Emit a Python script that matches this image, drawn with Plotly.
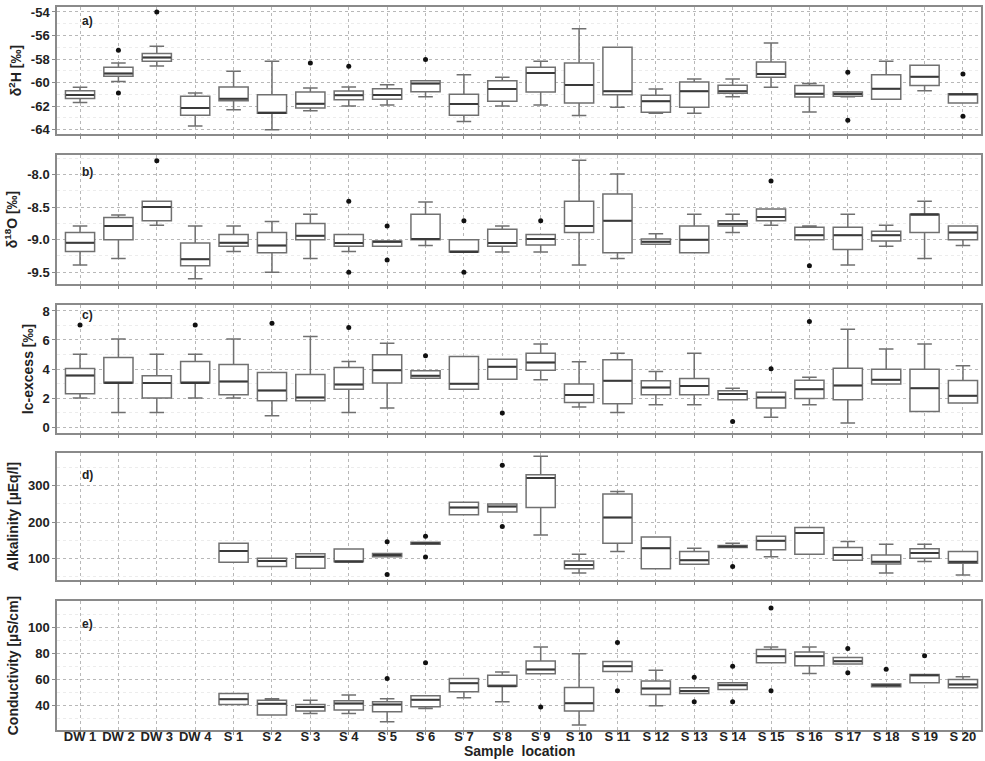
import plotly.graph_objects as go
from plotly.subplots import make_subplots

cats = ["DW 1", "DW 2", "DW 3", "DW 4"] + [f"S {i}" for i in range(1, 21)]
s_cats = cats[4:]

# Panel a) delta 2H
a_lf = [-61.7, -59.9, -58.6, -63.7, -62.3, -64.0, -62.4, -62.0, -61.9, -61.2, -63.3, -62.0, -61.9, -62.8, -62.1, -62.6, -62.6, -61.2, -60.4, -62.5, -61.2, -61.4, -60.7, -61.7]
a_q1 = [-61.35, -59.47, -58.19, -62.78, -61.54, -62.61, -62.16, -61.45, -61.42, -60.77, -62.78, -61.59, -60.80, -61.73, -61.03, -62.53, -62.10, -60.91, -59.55, -61.22, -61.17, -61.42, -60.26, -61.73]
a_med = [-61.05, -59.24, -57.88, -62.16, -61.37, -62.58, -61.79, -61.08, -61.05, -60.09, -61.82, -60.54, -59.18, -60.2, -60.74, -61.59, -60.74, -60.74, -59.27, -60.94, -60.97, -60.52, -59.50, -61.0]
a_q3 = [-60.7, -58.70, -57.54, -61.17, -60.37, -61.03, -60.80, -60.71, -60.52, -59.84, -61.0, -59.84, -58.70, -58.33, -57.0, -61.08, -59.95, -60.23, -58.25, -60.26, -60.80, -59.33, -58.53, -60.94]
a_uf = [-60.4, -58.33, -56.92, -60.88, -59.04, -58.19, -60.46, -60.37, -60.18, -59.84, -59.33, -59.55, -58.19, -55.42, -57.0, -60.54, -59.69, -59.69, -56.63, -60.09, -60.80, -58.19, -58.53, -60.94]
a_out_x = ["DW 2", "DW 2", "DW 3", "S 3", "S 4", "S 6", "S 17", "S 17", "S 20", "S 20"]
a_out_y = [-57.26, -60.88, -54.0, -58.33, -58.62, -58.05, -59.13, -63.21, -59.27, -62.87]

# Panel b) delta 18O
b_lf = [-9.39, -9.29, -8.78, -9.60, -9.18, -9.50, -9.29, -9.18, -9.10, -9.09, -9.19, -9.19, -9.19, -9.39, -9.29, -9.07, -9.20, -8.89, -8.78, -9.0, -9.39, -9.10, -9.29, -9.09]
b_q1 = [-9.18, -9.0, -8.71, -9.40, -9.10, -9.20, -9.0, -9.10, -9.10, -9.0, -9.19, -9.10, -9.08, -8.89, -9.20, -9.07, -9.20, -8.79, -8.71, -9.0, -9.15, -9.02, -8.89, -9.0]
b_med = [-9.045, -8.79, -8.50, -9.30, -9.045, -9.09, -8.94, -9.05, -9.03, -8.99, -9.19, -9.05, -8.99, -8.79, -8.71, -9.03, -9.0, -8.76, -8.65, -8.93, -8.93, -8.93, -8.61, -8.89]
b_q3 = [-8.89, -8.66, -8.41, -9.05, -8.92, -8.89, -8.75, -8.92, -9.02, -8.61, -9.0, -8.84, -8.92, -8.41, -8.30, -8.99, -8.79, -8.71, -8.53, -8.81, -8.81, -8.87, -8.61, -8.79]
b_uf = [-8.79, -8.62, -8.41, -8.79, -8.79, -8.72, -8.61, -8.92, -9.02, -8.42, -9.0, -8.79, -8.92, -7.78, -7.99, -8.91, -8.61, -8.61, -8.53, -8.79, -8.61, -8.78, -8.41, -8.79]
b_out_x = ["DW 3", "S 4", "S 4", "S 5", "S 5", "S 7", "S 7", "S 9", "S 15", "S 16"]
b_out_y = [-7.79, -8.41, -9.5, -8.79, -9.31, -8.71, -9.5, -8.71, -8.10, -9.40]

# Panel c) lc-excess
c_lf = [2.0, 1.01, 1.01, 2.0, 2.0, 0.78, 1.81, 1.01, 1.31, 3.37, 2.61, 3.30, 3.26, 1.38, 1.01, 1.54, 1.54, 1.88, 0.67, 1.54, 0.28, 2.96, 1.08, 1.65]
c_q1 = [2.29, 3.03, 2.0, 3.03, 2.22, 1.81, 1.81, 2.61, 3.03, 3.37, 2.61, 3.30, 3.92, 1.70, 1.61, 2.22, 2.22, 1.88, 1.31, 1.97, 1.88, 2.96, 1.08, 1.65]
c_med = [3.56, 3.03, 3.03, 3.03, 3.14, 2.52, 2.04, 2.94, 3.92, 3.53, 2.98, 4.15, 4.45, 2.20, 3.19, 2.73, 2.82, 2.27, 2.04, 2.61, 2.87, 3.26, 2.68, 2.16]
c_q3 = [4.04, 4.79, 3.53, 4.52, 4.31, 3.76, 3.62, 4.11, 4.98, 3.88, 4.86, 4.68, 5.09, 2.96, 4.63, 3.19, 3.35, 2.50, 2.39, 3.23, 4.06, 3.99, 3.99, 3.21]
c_uf = [5.02, 6.06, 5.02, 5.02, 6.06, 3.76, 6.24, 4.52, 5.78, 3.88, 4.86, 4.68, 5.73, 4.50, 5.09, 3.83, 5.09, 2.68, 2.39, 3.44, 6.74, 5.37, 5.73, 4.22]
c_out_x = ["DW 1", "DW 4", "S 2", "S 4", "S 6", "S 8", "S 14", "S 15", "S 16"]
c_out_y = [7.04, 7.04, 7.16, 6.86, 4.91, 0.96, 0.39, 4.01, 7.27]

# Panel d) Alkalinity (S 1 - S 20 only)
d_lf = [90, 78, 73, 91, 105, 139, 220, 228, 165, 60, 119, 72, 84, 130, 105, 112, 95, 60, 92, 55]
d_q1 = [90, 78, 73, 91, 105, 139, 220, 228, 240, 72, 142, 72, 84, 130, 124, 112, 95, 85, 101, 87]
d_med = [121, 93, 105, 91, 110, 142, 240, 243, 321, 82, 213, 128, 95, 133, 149, 170, 110, 91, 115, 91]
d_q3 = [142, 101, 113, 126, 114, 145, 255, 250, 330, 93, 277, 159, 119, 136, 161, 185, 130, 110, 127, 119]
d_uf = [142, 101, 113, 126, 114, 145, 255, 250, 381, 112, 284, 159, 128, 142, 161, 185, 147, 139, 139, 119]
d_out_x = ["S 5", "S 5", "S 6", "S 6", "S 8", "S 8", "S 14"]
d_out_y = [146, 56, 161, 104, 356, 188, 78]

# Panel e) Conductivity (S 1 - S 20 only)
e_lf = [40.5, 32.3, 33.6, 33.6, 27.2, 37.4, 45.6, 42.6, 64.1, 24.6, 65.9, 39.5, 49.0, 52.1, 72.6, 64.4, 71.8, 54.1, 57.2, 53.3]
e_q1 = [40.5, 32.3, 35.4, 36.2, 34.9, 38.7, 50.3, 54.6, 64.1, 35.4, 65.9, 48.2, 49.0, 52.1, 72.6, 70.3, 71.8, 54.1, 57.2, 53.3]
e_med = [44.6, 41.0, 38.5, 41.3, 40.5, 44.1, 56.9, 54.6, 67.4, 41.5, 70.0, 52.8, 50.8, 55.4, 77.7, 77.7, 73.8, 55.4, 63.1, 55.9]
e_q3 = [49.0, 43.8, 40.5, 43.3, 42.6, 47.2, 60.5, 63.1, 74.1, 53.6, 73.6, 58.5, 53.3, 57.2, 82.8, 81.0, 76.7, 56.2, 63.6, 59.7]
e_uf = [49.0, 45.0, 43.8, 47.7, 45.0, 47.2, 60.5, 65.6, 84.9, 79.7, 73.6, 66.9, 53.3, 57.2, 84.9, 84.9, 76.7, 56.2, 63.6, 61.8]
e_out_x = ["S 5", "S 6", "S 9", "S 11", "S 11", "S 13", "S 13", "S 14", "S 14", "S 15", "S 15", "S 17", "S 17", "S 18", "S 19"]
e_out_y = [60.5, 72.6, 38.5, 88.2, 51.0, 61.5, 42.6, 70.0, 42.6, 114.9, 51.0, 83.6, 64.9, 67.7, 78.0]

panels = [
    (cats, a_lf, a_q1, a_med, a_q3, a_uf, a_out_x, a_out_y),
    (cats, b_lf, b_q1, b_med, b_q3, b_uf, b_out_x, b_out_y),
    (cats, c_lf, c_q1, c_med, c_q3, c_uf, c_out_x, c_out_y),
    (s_cats, d_lf, d_q1, d_med, d_q3, d_uf, d_out_x, d_out_y),
    (s_cats, e_lf, e_q1, e_med, e_q3, e_uf, e_out_x, e_out_y),
]

y_titles = ["δ<sup>2</sup>H [‰]", "δ<sup>18</sup>O [‰]", "lc-excess [‰]", "Alkalinity [µEq/l]", "Conductivity [µS/cm]"]
panel_labels = ["a)", "b)", "c)", "d)", "e)"]
label_y = [0.89, 0.87, 0.92, 0.83, 0.82]
y_ranges = [[-64.37, -53.58], [-9.68, -7.70], [-0.41, 8.41], [41, 390], [20.8, 120.3]]
y_ticks = [[-64, -62, -60, -58, -56, -54], [-9.5, -9.0, -8.5, -8.0], [0, 2, 4, 6, 8], [100, 200, 300], [40, 60, 80, 100]]
y_ticktext = [["-64", "-62", "-60", "-58", "-56", "-54"], ["-9.5", "-9.0", "-8.5", "-8.0"],
              ["0", "2", "4", "6", "8"], ["100", "200", "300"], ["40", "60", "80", "100"]]
y_minor = [1, 0.25, 1, 50, 10]

H, W = 761, 985
mt, mb = 7, 31
ph = H - mt - mb
pix = [(7, 134), (155, 284), (305, 433), (453, 580), (601, 730)]
domains = [[(730 - b) / ph, (730 - t) / ph] for t, b in pix]

fig = make_subplots(rows=5, cols=1, shared_xaxes=True, vertical_spacing=0.02)

FONT = "Liberation Sans, Arial, sans-serif"
box_col = "#707070"
med_col = "#3a3a3a"

for i, (xc, lf, q1, med, q3, uf, ox, oy) in enumerate(panels):
    r = i + 1
    fig.add_trace(go.Box(x=xc, q1=q1, median=med, q3=q3, lowerfence=lf, upperfence=uf,
                         boxpoints=False, fillcolor="white", width=0.76,
                         line=dict(color=box_col, width=1.5), showlegend=False, hoverinfo="skip"),
                  row=r, col=1)
    # thicker darker median line overlay
    fig.add_trace(go.Box(x=xc, q1=med, median=med, q3=med, lowerfence=med, upperfence=med,
                         boxpoints=False, fillcolor="rgba(0,0,0,0)", width=0.74,
                         line=dict(color=med_col, width=2), showlegend=False, hoverinfo="skip"),
                  row=r, col=1)
    fig.add_trace(go.Scatter(x=ox, y=oy, mode="markers",
                             marker=dict(color="#111111", size=5), showlegend=False, hoverinfo="skip"),
                  row=r, col=1)

    ysuf = "" if r == 1 else str(r)
    fig.update_layout(**{f"yaxis{ysuf}": dict(
        domain=domains[i], range=y_ranges[i], tickvals=y_ticks[i],
        ticktext=[f"<b>{t}</b>" for t in y_ticktext[i]],
        showgrid=True, gridcolor="#b8b8b8", griddash="dot", gridwidth=1,
        minor=dict(dtick=y_minor[i], showgrid=True, gridcolor="#ececec", gridwidth=1, ticks=""),
        showline=True, mirror=True, linecolor="#8a8a8a", linewidth=1.5,
        ticks="outside", ticklen=3, tickcolor="#8a8a8a",
        zeroline=False,
        tickfont=dict(family=FONT, size=13, color="#222"),
        title=dict(text=f"<b>{y_titles[i]}</b>", font=dict(family=FONT, size=14, color="#222"), standoff=6),
    )})
    fig.update_layout(**{f"xaxis{ysuf}": dict(
        type="category", categoryorder="array", categoryarray=cats, range=[-0.6, 23.47],
        showgrid=True, gridcolor="#b8b8b8", griddash="dot", gridwidth=1,
        showline=True, mirror=True, linecolor="#8a8a8a", linewidth=1.5,
        ticks="outside", ticklen=3, tickcolor="#8a8a8a",
        showticklabels=(r == 5), ticklabelstandoff=-9,
        tickprefix="<b>", ticksuffix="</b>",
        tickfont=dict(family=FONT, size=13, color="#222"),
    )})
    fig.add_annotation(text=f"<b>{panel_labels[i]}</b>", xref=f"x{ysuf} domain", yref=f"y{ysuf} domain",
                       x=0.025, y=label_y[i], xanchor="left", yanchor="middle", showarrow=False,
                       font=dict(family=FONT, size=12, color="#222"))

fig.add_annotation(text="<b>Sample  location</b>", xref="paper", yref="paper", x=0.5, y=0.0,
                   yshift=-11, xanchor="center", yanchor="top", showarrow=False,
                   font=dict(family=FONT, size=14, color="#222"))

fig.update_layout(width=W, height=H, margin=dict(l=57, r=2, t=mt, b=mb),
                  plot_bgcolor="white", paper_bgcolor="white", boxmode="overlay",
                  font=dict(family=FONT))

fig.write_html("out.html", config={"displayModeBar": False},
               post_script="document.body.style.margin='0';document.body.style.padding='0';")
